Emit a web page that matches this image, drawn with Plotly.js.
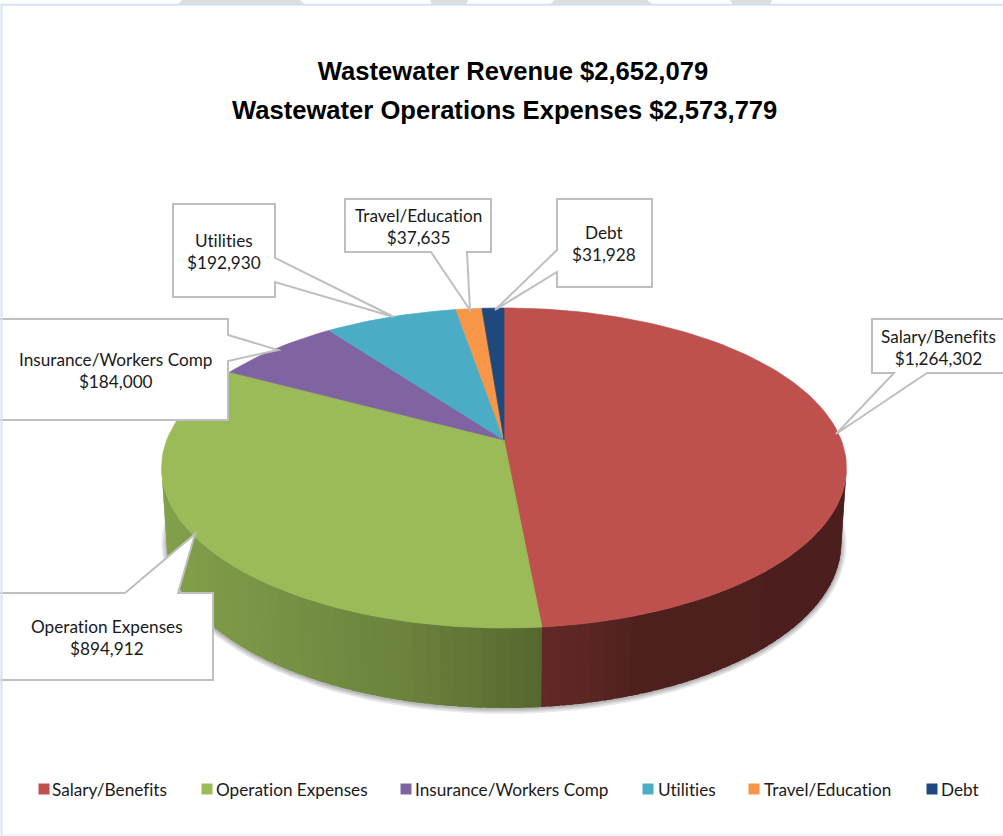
<!DOCTYPE html>
<html>
<head>
<meta charset="utf-8">
<script src="https://cdn.plot.ly/plotly-3.0.1.min.js"></script>
<style>
html,body{margin:0;padding:0;background:#fff;overflow:hidden}
#chart{width:1003px;height:836px}
text{font-variant-ligatures:none;font-feature-settings:"liga" 0,"clig" 0}
</style>
</head>
<body>
<div id="chart"></div>
<script>
// ---- data ----
const categories = ['Salary/Benefits', 'Operation Expenses', 'Insurance/Workers Comp', 'Utilities', 'Travel/Education', 'Debt'];
const expenses = [1264302, 894912, 184000, 192930, 37635, 31928];
const titleLines = ['Wastewater Revenue $2,652,079', 'Wastewater Operations Expenses $2,573,779'];

// ---- styles ----
const sliceColors = ['#BE504D', '#9BBB59', '#8064A2', '#4BACC6', '#F79646', '#1F497D'];
const wallStops = {
  0: [[541, [99, 41, 39]], [600, [90, 38, 36]], [650, [77, 32, 30]], [900, [76, 31, 30]]],
  1: [[160, [131, 160, 75]], [300, [116, 142, 67]], [400, [106, 130, 60]], [541, [84, 101, 46]]]
};
const FONT = 'Lato, Carlito, sans-serif';
const TITLE_FONT = '"Liberation Sans", Arial, sans-serif';
const GREY = '#BFBFBF';

// ---- tilted-disc projection of the pie ----
const apex = {x: 504, y: 440}, A = 337.2, B = 155.1, K = 0.175;
function rim(deg) {
  const t = deg * Math.PI / 180, X = Math.sin(t), Y = Math.cos(t), d = 1 + K * Y;
  return [apex.x + A * X / d, apex.y - B * Y / d];
}
function lower(p) { return [504 + (p[0] - 504) * 0.985, 543 + (p[1] - 468) * 165 / 160]; }
function shade(i, x) {
  const s = wallStops[i];
  if (!s) return '#333';
  if (x <= s[0][0]) return rgb(s[0][1]);
  for (let k = 1; k < s.length; k++) if (x <= s[k][0]) {
    const f = (x - s[k-1][0]) / (s[k][0] - s[k-1][0]);
    return rgb(s[k-1][1].map((c, n) => c + (s[k][1][n] - c) * f));
  }
  return rgb(s[s.length-1][1]);
}
function rgb(c) { return 'rgb(' + c.map(Math.round).join(',') + ')'; }

const total = expenses.reduce((a, b) => a + b, 0);
const traces = [];
function poly(pts, fill, line) {
  traces.push({type: 'scatter', mode: 'lines', x: pts.map(p => p[0]), y: pts.map(p => p[1]),
    fill: 'toself', fillcolor: fill, line: {width: line ? 0.7 : 0, color: line || fill},
    hoverinfo: 'skip', showlegend: false});
}

// soft shadow beneath the wall
[5, 3.5, 2, 1].forEach(g => {
  const pts = [];
  for (let a = 0; a <= 360; a += 3) {
    const t = a * Math.PI / 180;
    pts.push([504 + (337.4 + g) * Math.cos(t), 544 + (165 + g) * Math.sin(t)]);
  }
  poly(pts, 'rgba(60,60,60,0.11)');
});

// side wall strips, then top wedges, all angles from the values
let start = 0;
const spans = expenses.map(v => { const s = [start, start + v / total * 360]; start = s[1]; return s; });
[1, 0].forEach(i => {
  const span = spans[i], step = 2;
  // walk towards the slice boundary at the front, each strip overlapping the previous one
  const list = [];
  for (let a = span[0]; a < span[1]; a += step) list.push(a);
  if (i === 0) list.reverse();
  list.forEach(a => {
    const b = Math.min(a + step * 1.8, span[1]);
    const a2 = Math.max(a - step * 0.8, span[0]);
    const p = i === 0 ? rim(a) : rim(a2), q = i === 0 ? rim(b) : rim(Math.min(a + step, span[1]));
    if (Math.min(p[1], q[1]) < 466) return;
    const c = shade(i, rim(a + step / 2)[0]);
    poly([p, q, lower(q), lower(p), p], c);
  });
});
spans.forEach((span, i) => {
  const pts = [[apex.x, apex.y]];
  const n = Math.max(4, Math.ceil((span[1] - span[0]) / 1.5));
  for (let k = 0; k <= n; k++) pts.push(rim(span[0] + (span[1] - span[0]) * k / n));
  pts.push([apex.x, apex.y]);
  poly(pts, sliceColors[i], sliceColors[i]);
});

// legend
const legendSwatchX = [44, 207, 406, 648, 754, 932];
const legendTextX = [50, 214, 413, 656, 762, 939];
const legendY = 789;
categories.forEach((c, i) => {
  traces.push({type: 'scatter', mode: 'markers', name: c, x: [legendSwatchX[i]], y: [legendY],
    marker: {symbol: 'square', size: 11, color: sliceColors[i]}, hoverinfo: 'skip', showlegend: false});
});

// callouts
function path(pts) { return 'M' + pts.map(p => p.join(',')).join('L') + 'Z'; }
const callouts = [
  {box: [[872,319],[1010,319],[1010,373],[927,373],[836,434],[894,373],[872,373]], cx: 938, cy: 347},
  {box: [[-5,593],[125,593],[195,534],[178,593],[213,593],[213,680],[-5,680]], cx: 107, cy: 637},
  {box: [[-5,319],[228,319],[228,335],[278,350],[228,361],[228,420],[-5,420]], cx: 115, cy: 370},
  {box: [[173,204],[275,204],[275,258],[394,317],[275,282],[275,297],[173,297]], cx: 224, cy: 251},
  {box: [[345,199],[491,199],[491,252],[467,252],[470,310],[431,252],[345,252]], cx: 418, cy: 226},
  {box: [[557,199],[652,199],[652,287],[557,287],[557,272],[495,310],[557,250]], cx: 604, cy: 243}
];
const shapes = callouts.map(c => ({type: 'path', path: path(c.box), fillcolor: '#fff',
  line: {color: GREY, width: 2}, layer: 'above', xref: 'x', yref: 'y'}));

// page frame and the grey marks above it
const frame = (p, col, w) => ({type: 'path', path: p, xref: 'x', yref: 'y', layer: 'above',
  fillcolor: w ? 'rgba(0,0,0,0)' : col, line: {color: col, width: w || 0}});
shapes.push(frame('M178,4.5L182,0L300,0L305,4.5Z', '#DDDDDD'));
shapes.push(frame('M432,4.5L430,0L468,0L466,4.5Z', '#DDDDDD'));
shapes.push(frame('M550,4.5L555,0L647,0L653,4.5Z', '#DDDDDD'));
shapes.push(frame('M733,4.5L730,0L772,0L770,4.5Z', '#DDDDDD'));
shapes.push(frame('M1.5,836L1.5,4.7L1003,4.7', '#D3E2F5', 2));
shapes.push(frame('M0,834.7L1003,834.7', '#EEF2FA', 1.5));

// text
const annotations = [];
annotations.push({x: 504, y: 110, xref: 'x', yref: 'y', text: '<b>' + titleLines[1] + '</b>', showarrow: false,
  xanchor: 'center', yanchor: 'middle', font: {family: TITLE_FONT, size: 25.6, color: '#000'}});
callouts.forEach((c, i) => annotations.push({x: c.cx, y: c.cy, xref: 'x', yref: 'y', showarrow: false,
  text: categories[i] + '<br>$' + expenses[i].toLocaleString('en-US'), align: 'center',
  xanchor: 'center', yanchor: 'middle', font: {family: FONT, size: 17.2, color: '#1a1a1a'}}));
categories.forEach((c, i) => annotations.push({x: legendTextX[i], y: legendY, xref: 'x', yref: 'y', showarrow: false,
  text: c, xanchor: 'left', yanchor: 'middle', font: {family: FONT, size: 17.2, color: '#1a1a1a'}}));

const layout = {
  width: 1003, height: 836, margin: {l: 0, r: 0, t: 0, b: 0},
  paper_bgcolor: '#fff', plot_bgcolor: '#fff', showlegend: false, hovermode: false, dragmode: false,
  title: {text: '<b>' + titleLines[0] + '</b>', x: 513 / 1003, xanchor: 'center', y: 1 - 71 / 836, yanchor: 'middle',
    font: {family: TITLE_FONT, size: 25.6, color: '#000'}},
  xaxis: {range: [0, 1003], visible: false, fixedrange: true},
  yaxis: {range: [836, 0], visible: false, fixedrange: true},
  shapes: shapes, annotations: annotations
};
Plotly.newPlot('chart', traces, layout, {displayModeBar: false, responsive: false, staticPlot: true});
</script>
</body>
</html>
